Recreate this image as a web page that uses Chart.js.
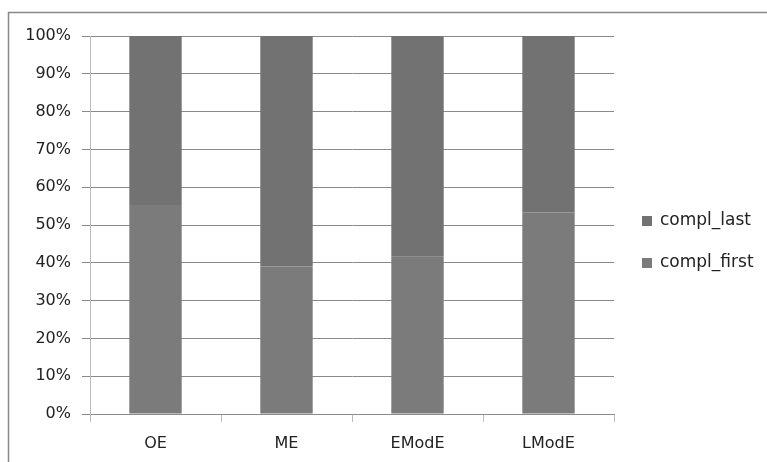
<!DOCTYPE html>
<html>
<head>
<meta charset="utf-8">
<script src="https://cdn.jsdelivr.net/npm/chart.js@4/dist/chart.umd.min.js"></script>
<style>
  html, body { margin: 0; padding: 0; background: #fff; }
  #wrap { width: 767px; height: 462px; position: relative; }
</style>
</head>
<body>
<div id="wrap"><canvas id="c"></canvas></div>
<script>
// Share of completions per period (percent, stacked to 100)
const categories = ['OE', 'ME', 'EModE', 'LModE'];
const complFirst = [55.3, 39.0, 41.6, 53.3];
const complLast  = [44.7, 61.0, 58.4, 46.7];
const seriesNames = ['compl_first', 'compl_last'];
const yTicks = [0, 10, 20, 30, 40, 50, 60, 70, 80, 90, 100];

const FONT = '"DejaVu Sans", sans-serif';
const colFirst = '#7b7b7b';
const colLast = '#727272';

// Outer frame around the whole figure
const framePlugin = {
  id: 'frame',
  beforeDraw(chart) {
    const ctx = chart.ctx;
    ctx.save();
    ctx.fillStyle = '#fff';
    ctx.fillRect(0, 0, chart.width, chart.height);
    ctx.strokeStyle = '#878787';
    ctx.lineWidth = 1.5;
    ctx.strokeRect(8.5, 12.5, chart.width + 20, chart.height + 20);
    ctx.restore();
  }
};

// Legend on the right, top series listed first
const legendPlugin = {
  id: 'sideLegend',
  afterDraw(chart) {
    const ctx = chart.ctx;
    const ds = chart.data.datasets;
    const items = [ds[1], ds[0]];
    ctx.save();
    ctx.font = '17px ' + FONT;
    ctx.textBaseline = 'middle';
    items.forEach((d, i) => {
      const cy = 221 + i * 42;
      ctx.fillStyle = d.backgroundColor;
      ctx.fillRect(642, cy - 5, 10, 10);
      ctx.fillStyle = '#222';
      ctx.fillText(d.label, 660, cy);
    });
    ctx.restore();
  }
};

new Chart(document.getElementById('c'), {
  type: 'bar',
  data: {
    labels: categories,
    datasets: [
      { label: seriesNames[0], data: complFirst, backgroundColor: colFirst,
        barPercentage: 0.4, categoryPercentage: 1.0 },
      { label: seriesNames[1], data: complLast, backgroundColor: colLast,
        barPercentage: 0.4, categoryPercentage: 1.0 }
    ]
  },
  options: {
    responsive: true,
    maintainAspectRatio: false,
    animation: false,
    layout: { padding: { left: 0, right: 153, top: 36, bottom: 0 } },
    plugins: { legend: { display: false }, tooltip: { enabled: false } },
    scales: {
      x: {
        stacked: true,
        afterFit(s) { s.height = 48; },
        grid: { offset: true, drawOnChartArea: false, drawTicks: true,
                tickLength: 8, color: '#bdbdbd', lineWidth: 1 },
        border: { display: true, color: '#8a8a8a', width: 1 },
        ticks: { color: '#222', font: { family: FONT, size: 16 }, padding: 12 }
      },
      y: {
        stacked: true,
        min: 0, max: 100,
        afterFit(s) { s.width = 90; },
        afterBuildTicks(s) { s.ticks = yTicks.map(v => ({ value: v })); },
        grid: { color: '#8a8a8a', lineWidth: 1, drawTicks: true, tickLength: 8 },
        border: { display: true, color: '#bdbdbd', width: 1 },
        ticks: { color: '#222', font: { family: FONT, size: 16 }, padding: 11,
                 callback: v => v + '%' }
      }
    }
  },
  plugins: [framePlugin, legendPlugin]
});
</script>
</body>
</html>
